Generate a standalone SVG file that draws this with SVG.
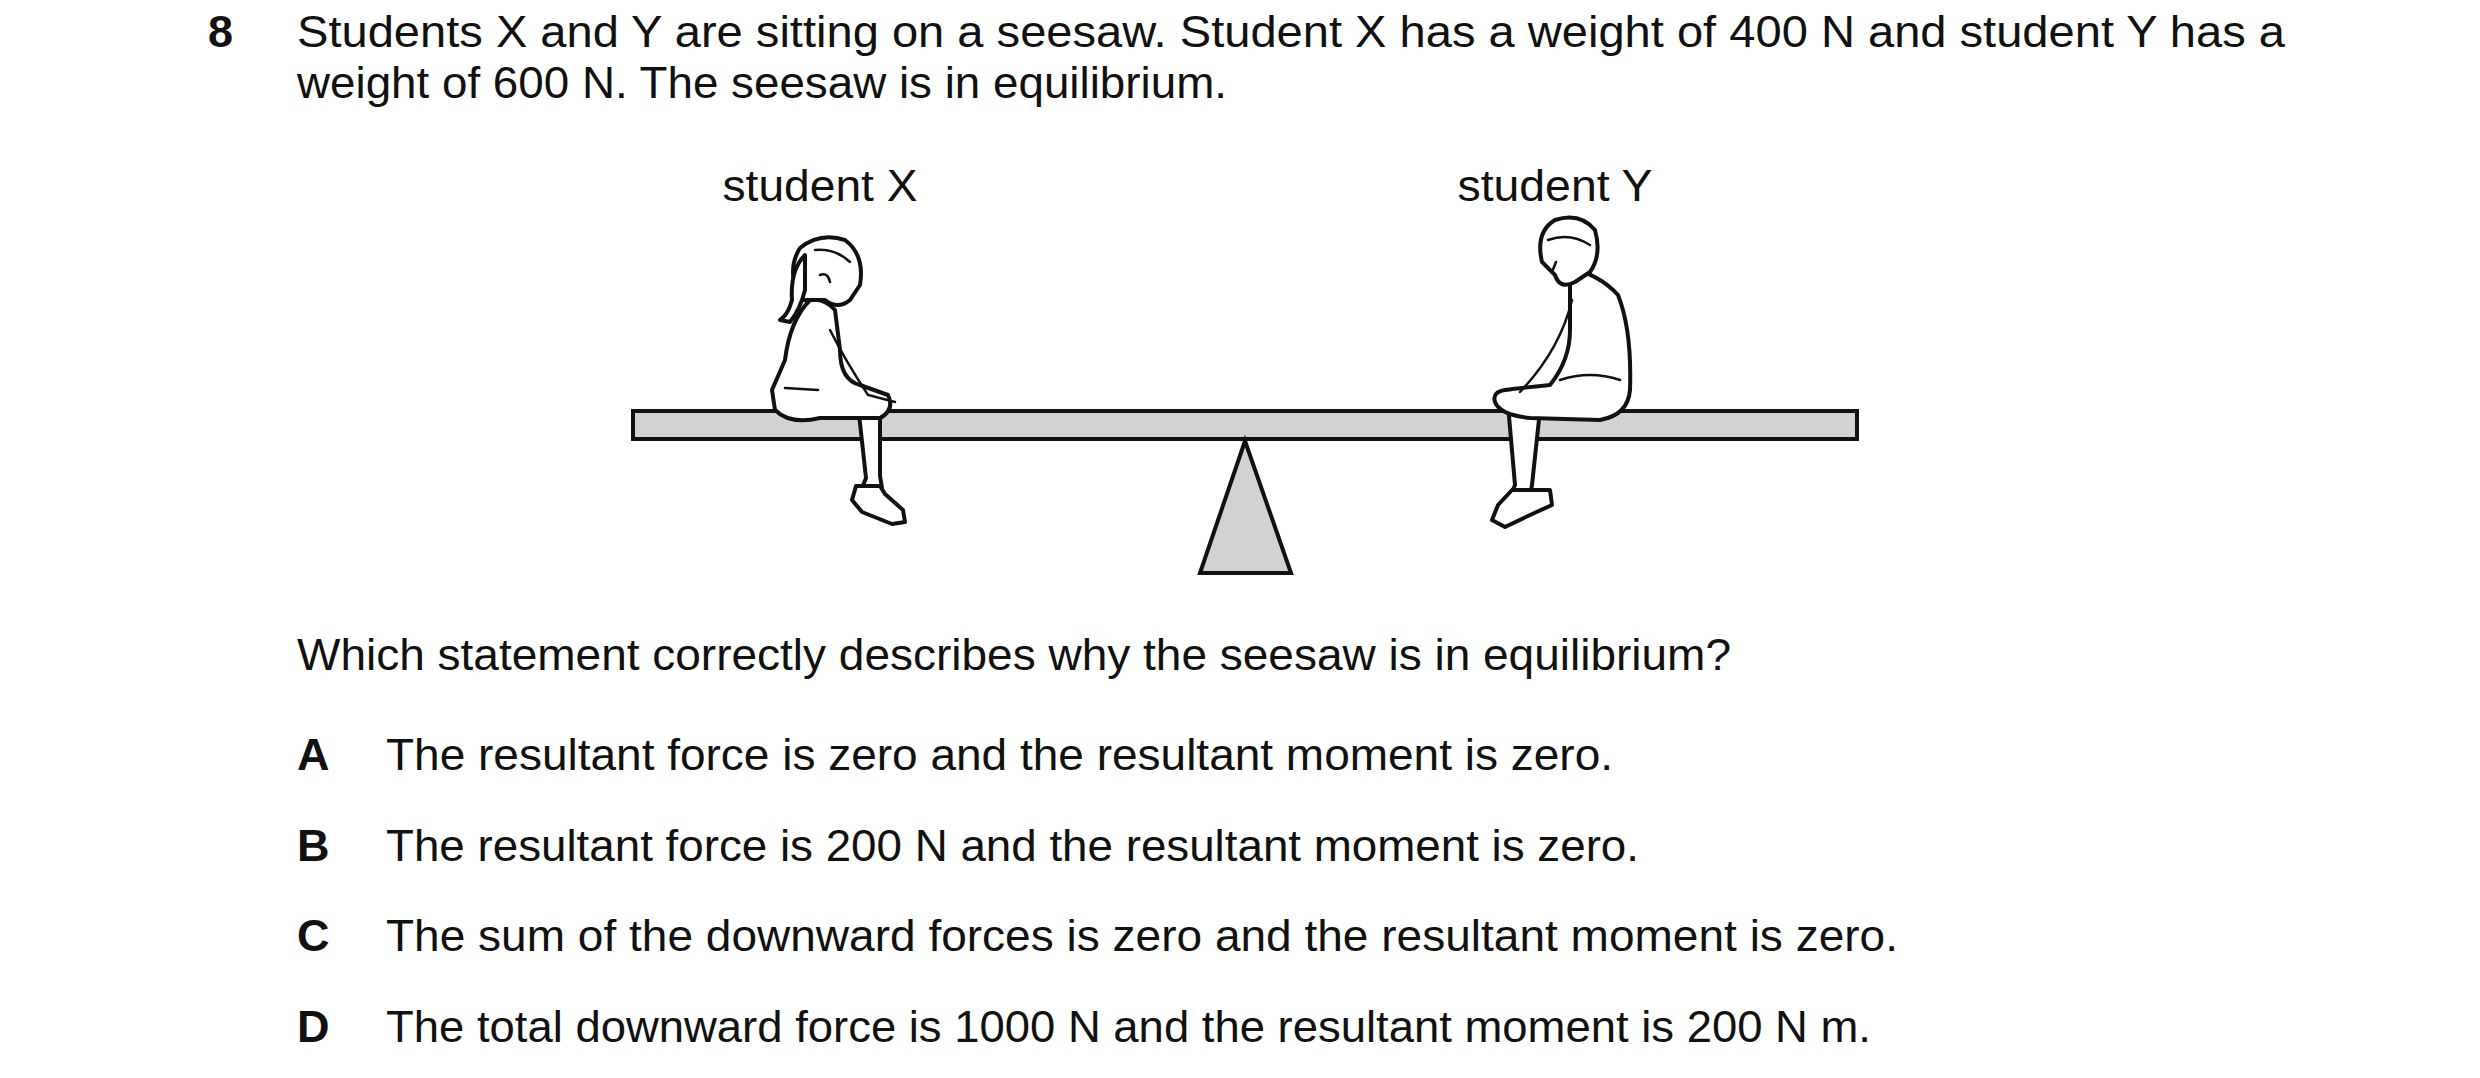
<svg xmlns="http://www.w3.org/2000/svg" width="2480" height="1078" viewBox="0 0 2480 1078">
<style>
text{font-family:"Liberation Sans",Arial,sans-serif;font-size:45px;fill:#111}
.b{font-weight:bold}
.fig{fill:#fff;stroke:#111;stroke-width:4;stroke-linejoin:round;stroke-linecap:round}
.ln{fill:none;stroke:#111;stroke-width:2.5;stroke-linecap:round}
</style>
<rect width="2480" height="1078" fill="#fff"/>
<g id="question">
<text x="208" y="47" class="b">8</text>
<text x="297" y="47" textLength="1988" lengthAdjust="spacingAndGlyphs">Students X and Y are sitting on a seesaw. Student X has a weight of 400 N and student Y has a</text>
<text x="297" y="98" textLength="930" lengthAdjust="spacingAndGlyphs">weight of 600 N. The seesaw is in equilibrium.</text>
<text x="297" y="670" textLength="1434" lengthAdjust="spacingAndGlyphs">Which statement correctly describes why the seesaw is in equilibrium?</text>
</g>
<g id="options">
<text x="297" y="770" class="b">A</text><text x="386" y="770" textLength="1227" lengthAdjust="spacingAndGlyphs">The resultant force is zero and the resultant moment is zero.</text>
<text x="297" y="861" class="b">B</text><text x="386" y="861" textLength="1253" lengthAdjust="spacingAndGlyphs">The resultant force is 200 N and the resultant moment is zero.</text>
<text x="297" y="951" class="b">C</text><text x="386" y="951" textLength="1512" lengthAdjust="spacingAndGlyphs">The sum of the downward forces is zero and the resultant moment is zero.</text>
<text x="297" y="1042" class="b">D</text><text x="386" y="1042" textLength="1485" lengthAdjust="spacingAndGlyphs">The total downward force is 1000 N and the resultant moment is 200 N m.</text>
</g>
<g id="labels">
<text x="820" y="201" text-anchor="middle" textLength="195" lengthAdjust="spacingAndGlyphs">student X</text>
<text x="1555" y="201" text-anchor="middle" textLength="195" lengthAdjust="spacingAndGlyphs">student Y</text>
</g>
<g id="seesaw">
<rect x="633" y="411" width="1224" height="28" fill="#d1d2d4" stroke="#111" stroke-width="4"/>
<polygon points="1245,441 1200,573 1291,573" fill="#d1d2d4" stroke="#111" stroke-width="4" stroke-linejoin="miter"/>
</g>
<g id="studentX">
<path class="fig" d="M858 405 L866 478 L862 488 L882 488 L880 476 L880 408 Z"/>
<path class="fig" d="M856 486 L852 500 L862 512 L892 524 L905 522 L903 510 L885 494 L880 486 Z"/>
<path class="fig" d="M810 300 Q790 320 785 360 L772 390 L775 410 Q790 425 820 418 L880 418 Q895 410 888 395 L860 385 Q840 380 840 350 L835 310 Q825 298 810 300 Z"/>
<path class="ln" d="M785 388 L818 390 M830 330 Q845 360 868 395 L895 402"/>
<path class="fig" d="M800 300 Q786 270 800 248 Q820 232 845 240 Q865 255 860 285 L850 300 Q838 310 825 300 Z"/>
<path class="fig" d="M805 255 Q790 270 792 300 Q788 315 780 320 L790 322 Q800 310 805 290 Z"/>
<path class="ln" d="M815 250 Q835 248 850 262 M820 275 Q828 272 830 282"/>
</g>
<g id="studentY">
<path class="fig" d="M1508 405 L1515 485 L1512 492 L1530 495 L1532 485 L1540 410 Z"/>
<path class="fig" d="M1512 490 L1498 505 L1492 520 L1505 527 L1530 515 L1552 505 L1550 490 Z"/>
<path class="fig" d="M1570 268 Q1600 275 1618 295 Q1632 330 1630 390 Q1628 415 1600 420 L1530 418 Q1500 415 1495 402 Q1492 392 1505 390 Q1520 388 1550 385 Q1570 360 1570 330 Z"/>
<path class="ln" d="M1560 380 Q1590 370 1620 380 M1572 300 Q1560 350 1520 392"/>
<path class="fig" d="M1542 262 Q1535 232 1555 220 Q1580 212 1595 230 Q1602 255 1590 272 L1575 282 Q1560 290 1555 275 Z"/>
<path class="ln" d="M1548 240 Q1570 232 1590 245 M1556 262 L1552 272"/>
</g>
</svg>
